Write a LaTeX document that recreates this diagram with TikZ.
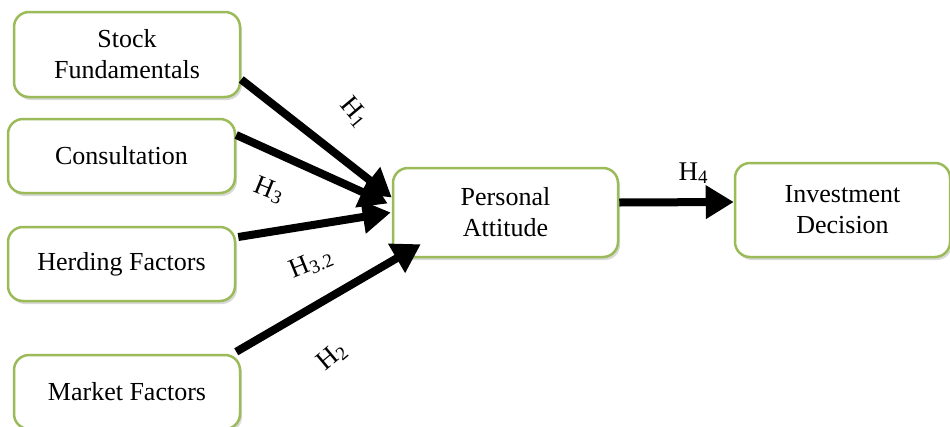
\documentclass[tikz,border=0pt]{standalone}
\usepackage{fontspec}
\setmainfont{Liberation Serif}
\usetikzlibrary{arrows.meta,shadows}
\definecolor{boxgreen}{HTML}{9BBB59}
\newcommand\hsub[1]{\raisebox{-3pt}{\fontsize{19}{19}\selectfont #1}}

\begin{document}
\begin{tikzpicture}[x=1pt,y=-1pt,
		factor/.style={draw=boxgreen,line width=2.5pt,rounded corners=15pt,fill=white,
			align=center,inner sep=0,font=\fontsize{26}{31}\selectfont,
			drop shadow={shadow xshift=2pt,shadow yshift=-3pt,opacity=0.25,fill=black!60}},
		hyp/.style={line width=8pt,-{Triangle[length=28pt,width=32pt]}},
		hlabel/.style={inner sep=0,font=\fontsize{27}{30}\selectfont}]
		\useasboundingbox (0,0) rectangle (950,426);

		\node[factor,minimum width=226pt,minimum height=85pt] (SF) at (127,54.5) {Stock\\Fundamentals};
		\node[factor,minimum width=227pt,minimum height=74pt] (CO) at (121.5,156) {Consultation};
		\node[factor,minimum width=227pt,minimum height=74pt] (HF) at (121.5,264) {Herding Factors};
		\node[factor,minimum width=226pt,minimum height=74pt] (MF) at (127,392) {Market Factors};
		\node[factor,minimum width=225pt,minimum height=89pt] (PA) at (505.5,212.5) {Personal\\Attitude};
		\node[factor,minimum width=215pt,minimum height=94pt] (ID) at (842.5,210) {Investment\\Decision};

		\draw [hyp] ([yshift=-25pt]SF.east) -- ([yshift=15pt]PA.west);
		\draw [hyp] ([yshift=21pt]CO.east) -- ([xshift=-4pt,yshift=9pt]PA.west);
		\draw [hyp] ([xshift=2pt,yshift=27pt]HF.east) -- ([xshift=-1pt,yshift=0pt]PA.west);
		\draw [hyp] ([xshift=-5pt,yshift=2pt]MF.north east) -- ([xshift=29pt,yshift=14pt]PA.south west);
		\draw [hyp] ([yshift=10pt]PA.east) -- ([yshift=8pt]ID.west);

		\node[hlabel,rotate=-50] (H1) at (354,112) {H\hsub{1}};
		\node[hlabel,rotate=-22] (H3) at (269,190) {H\hsub{3}};
		\node[hlabel,rotate=22] (H32) at (311,264) {H\hsub{3.2}};
		\node[hlabel,rotate=40] (H2) at (332,357) {H\hsub{2}};
		\node[hlabel] (H4) at (693,173) {H\hsub{4}};
	\end{tikzpicture}
\end{document}
